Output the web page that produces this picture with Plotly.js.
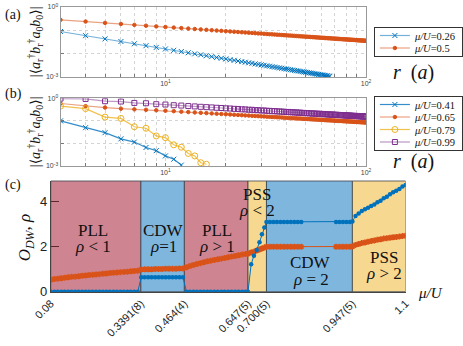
<!DOCTYPE html>
<html>
<head>
<meta charset="utf-8">
<script src="https://cdn.plot.ly/plotly-3.0.1.min.js"></script>
<style>
  body { margin: 0; background: #fff; }
  #chart { width: 463px; height: 346px; }
</style>
</head>
<body>
<div id="chart"></div>
<script>
// distances r (in units of a), shared by panels (a) and (b)
var rVals = [3,4,5,6,7,8,9,10,11,12,13,14,15,16,17,18,19,20,21,22,23,24,25,26,27,28,29,30,
  31,32,33,34,35,36,37,38,39,40,41,42,43,44,45,46,47,48,49,50,51,52,53,54,55,56,57,58,59,60,
  61,62,63,64,65,66,67,68,69,70,71,72,73,74,75,76,77,78,79,80,81,82,83,84,85,86,87,88,89,90,
  91,92,93,94,95,96,97,98,99,100];

// panel (a)
var corrA026 = [.0891,.059,.0429,.0331,.0265,.0219,.0185,.0159,
  .0139,.0123,.0109,.00984,.00892,.00813,.00746,.00687,.00636,.00591,
  .00551,.00516,.00484,.00455,.0043,.00406,.00385,.00365,.00347,.00331,
  .00316,.00302,.00289,.00277,.00265,.00255,.00245,.00236,.00227,.00219,
  .00212,.00205,.00198,.00191,.00185,.0018,.00174,.00169,.00164,.00159,
  .00155,.00151,.00147,.00143,.00139,.00136,.00132,.00129,.00126,.00123,
  .0012,.00117,.00115,.00112,.0011,.00107];
var corrA05 = [.2818,.2377,.2084,.1872,.1709,.158,.1474,.1385,
  .1309,.1244,.1186,.1136,.109,.105,.1013,.0979,.0948,.092,
  .0894,.087,.0847,.0826,.0807,.0788,.0771,.0754,.0739,.0724,
  .071,.0697,.0685,.0673,.0661,.0651,.064,.063,.0621,.0611,
  .0602,.0594,.0586,.0578,.057,.0563,.0556,.0549,.0542,.0536,
  .053,.0524,.0518,.0512,.0507,.0501,.0496,.0491,.0486,.0481,
  .0477,.0472,.0468,.0463,.0459,.0455,.0451,.0447,.0443,.0439,
  .0436,.0432,.0429,.0425,.0422,.0418,.0415,.0412,.0409,.0406,
  .0403,.04,.0397,.0395,.0392,.0389,.0387,.0384,.0381,.0379,
  .0376,.0374,.0372,.0369,.0367,.0365,.0362,.036,.0358,.0356];

// panel (b)
var corrB041 = [.1,.05,.03,.016,.0115,.0066,.0048,.0028,.002,.0011];
var corrB065 = [.589,.447,.389,.347,.324,.309,.295,.282,.269,
  .256,.246,.237,.228,.221,.214,.208,.202,.197,
  .192,.187,.183,.179,.175,.171,.168,.165,.162,.159,
  .157,.154,.151,.149,.147,.145,.143,.141,.139,.137,
  .135,.134,.132,.13,.129,.127,.126,.125,.123,.122,
  .121,.12,.118,.117,.116,.115,.114,.113,.112,.111,
  .11,.109,.108,.107,.106,.106,.105,.104,.103,.102,
  .102,.101,.1,.0995,.0989,.0982,.0975,.0968,.0962,.0956,
  .095,.0944,.0938,.0932,.0926,.0921,.0915,.091,.0904,.0899,
  .0894,.0889,.0884,.0879,.0874,.0869,.0865,.086,.0855,.0851];
var corrB079 = [.45,.35,.147,.128,.055,.047,.0215,.018,.0087,.0068,.0036,.0028,.0014,.0012];
var corrB099 = [.97,.937,.744,.719,.625,.603,.548,.529,
  .494,.477,.453,.437,.42,.405,.394,.38,.372,.359,
  .353,.341,.337,.325,.322,.311,.309,.299,.298,.288,
  .289,.279,.278,.268,.271,.261,.263,.254,.256,.247,
  .249,.24,.243,.235,.237,.229,.232,.224,.226,.219,
  .223,.215,.217,.21,.214,.206,.21,.203,.206,.199,
  .203,.196,.199,.192,.195,.188,.193,.187,.19,.183,
  .188,.181,.184,.178,.182,.176,.18,.173,.177,.171,
  .175,.169,.173,.167,.17,.165,.168,.163,.166,.161,
  .165,.159,.163,.157,.161,.155,.159,.154,.157,.152];

// panel (c): chemical potential, density-wave order and density
var muC = [.08,.09,.10,.11,.12,.13,.14,.15,.16,.17,.18,.19,.20,.21,.22,.23,.24,.25,.26,.27,.28,.29,.30,.31,.32,.33,
  .34,.35,.36,.37,.38,.39,.40,.41,.42,.43,.44,.45,.46,
  .47,.48,.49,.50,.51,.52,.53,.54,.55,.56,.57,.58,.59,.60,.61,.62,.63,.64,
  .647,.656,.664,.672,.680,.687,.694,.700,
  .71,.72,.73,.74,.75,.76,.77,.78,.79,.80,
  .90,.91,.92,.93,.94,.947,
  .956,.965,.974,.983,.992,1.001,1.010,1.019,1.028,1.037,1.046,1.055,1.064,1.073,1.082,1.091,1.100];
var odwC = [0,0,0,0,0,0,0,0,0,0,0,0,0,0,0,0,0,0,0,0,0,0,0,0,0,0,
  .64,.64,.64,.64,.64,.64,.64,.64,.64,.64,.64,.64,.64,
  0,0,0,0,0,0,0,0,0,0,0,0,0,0,0,0,0,0,
  0,1.22,1.6,1.85,2.2,2.55,2.85,3.1,
  3.1,3.1,3.1,3.1,3.1,3.1,3.1,3.1,3.1,3.1,
  3.1,3.1,3.1,3.1,3.1,3.12,
  3.36,3.48,3.59,3.66,3.73,3.81,3.88,3.97,4.04,4.15,4.22,4.33,4.42,4.49,4.56,4.67,4.74];
var rhoC = [.53,.56,.58,.60,.62,.64,.66,.67,.69,.71,.72,.74,.75,.77,.78,.80,.81,.83,.84,.85,.87,.88,.89,.91,.92,.93,
  .99,1.0,1.0,1.0,1.01,1.01,1.01,1.02,1.02,1.02,1.02,1.03,1.03,
  1.09,1.14,1.19,1.23,1.27,1.31,1.35,1.38,1.41,1.44,1.47,1.50,1.53,1.56,1.59,1.62,1.65,1.68,
  1.69,1.74,1.78,1.83,1.88,1.92,1.96,2.0,
  2.0,2.0,2.0,2.0,2.0,2.0,2.0,2.0,2.0,2.0,
  2.0,2.0,2.0,2.0,2.0,2.01,
  2.08,2.12,2.16,2.19,2.22,2.25,2.28,2.31,2.33,2.36,2.38,2.40,2.42,2.43,2.45,2.47,2.49];

// phase boundaries and their labels
var phaseEdges = [0.08, 0.3391, 0.464, 0.647, 0.700, 0.947, 1.1];
var phaseTickText = ['0.08', '0.3391(8)', '0.464(4)', '0.647(5)', '0.700(5)', '0.947(5)', '1.1'];
var phaseNames = ['PLL', 'CDW', 'PLL', 'PSS', 'CDW', 'PSS'];
var phaseRho = ['ρ < 1', 'ρ=1', 'ρ > 1', 'ρ < 2', 'ρ = 2', 'ρ > 2'];

var SERIF = 'Liberation Serif, DejaVu Serif, serif';
var SANS = 'Liberation Sans, Arial, sans-serif';
var BLUE = '#0072bd', ORANGE = '#d95319', YELLOW = '#edb120', PURPLE = '#7e2f8e';
var phaseColors = ['#cf8591', '#7eb6de', '#cf8591', '#f7d890', '#7eb6de', '#f7d890'];

function corrTrace(y, mu, color, lineColor, symbol, size, xa, ya, legend) {
  return {
    x: rVals.slice(0, y.length), y: y,
    name: '<i>μ/U</i>=' + mu,
    xaxis: xa, yaxis: ya, legend: legend,
    mode: 'lines+markers', type: 'scatter',
    line: {color: lineColor, width: 1.2},
    marker: {symbol: symbol, size: size, color: color, line: {color: color, width: 1}}
  };
}

var traces = [
  corrTrace(corrA026, '0.26', BLUE, 'rgba(0,114,189,0.55)', 'x-thin-open', 5, 'x', 'y', 'legend'),
  corrTrace(corrA05, '0.5', ORANGE, 'rgba(217,83,25,0.55)', 'circle', 3.5, 'x', 'y', 'legend'),
  corrTrace(corrB041, '0.41', BLUE, 'rgba(0,114,189,0.8)', 'x-thin-open', 5, 'x2', 'y2', 'legend2'),
  corrTrace(corrB065, '0.65', ORANGE, 'rgba(217,83,25,0.55)', 'circle', 3.5, 'x2', 'y2', 'legend2'),
  corrTrace(corrB079, '0.79', YELLOW, 'rgba(237,177,32,0.8)', 'circle-open', 6, 'x2', 'y2', 'legend2'),
  corrTrace(corrB099, '0.99', PURPLE, 'rgba(126,47,142,0.5)', 'square-open', 5, 'x2', 'y2', 'legend2'),
  {
    x: muC, y: rhoC, xaxis: 'x3', yaxis: 'y3', showlegend: false,
    mode: 'lines+markers', type: 'scatter',
    line: {color: ORANGE, width: 1},
    marker: {symbol: 'asterisk-open', size: 5, color: ORANGE, line: {color: ORANGE, width: 1.6}}
  },
  {
    x: muC, y: odwC, xaxis: 'x3', yaxis: 'y3', showlegend: false,
    mode: 'lines+markers', type: 'scatter',
    line: {color: BLUE, width: 1},
    marker: {symbol: 'circle', size: 4.5, color: BLUE}
  }
];

var logGridX = [3,4,5,6,7,8,9,10,20,30,40,50,60,70,80,90,100];
var logGridXText = logGridX.map(function(v) {
  return v === 10 ? '10<sup>1</sup>' : (v === 100 ? '10<sup>2</sup>' : ' ');
});

function logX(domain, anchor) {
  return {
    type: 'log', range: [Math.log10(3), 2], domain: domain, anchor: anchor,
    tickvals: logGridX, ticktext: logGridXText,
    ticks: 'inside', ticklen: 3, tickcolor: '#777',
    showgrid: true, gridcolor: '#d4d4d4', griddash: 'dot', gridwidth: 1,
    showline: true, mirror: true, linecolor: '#999', linewidth: 1,
    zeroline: false, tickfont: {family: SANS, size: 7, color: '#444'}
  };
}
function logY(domain, anchor) {
  return {
    type: 'log', range: [-3, 0], domain: domain, anchor: anchor,
    tickvals: [0.001, 0.01, 0.1, 1],
    ticktext: ['10<sup>-3</sup>', ' ', ' ', '10<sup>0</sup>'],
    ticks: 'inside', ticklen: 3, tickcolor: '#777',
    showgrid: true, gridcolor: '#d4d4d4', griddash: 'dot', gridwidth: 1,
    showline: true, mirror: true, linecolor: '#999', linewidth: 1,
    zeroline: false, tickfont: {family: SANS, size: 7, color: '#444'}
  };
}

var shapes = [];
var annotations = [];
for (var i = 0; i < phaseColors.length; i++) {
  shapes.push({
    type: 'rect', xref: 'x3', yref: 'y3 domain',
    x0: phaseEdges[i], x1: phaseEdges[i + 1], y0: 0, y1: 1,
    fillcolor: phaseColors[i], line: {color: 'rgba(50,60,70,0.75)', width: 1}, layer: 'below'
  });
}

// phase labels (two lines each)
var labelX = [0.201, 0.404, 0.559, 0.672, 0.827, 1.038];
var labelY = [2.72, 2.72, 2.72, 4.33, 1.28, 1.52];
var labelGap = 0.72;
for (var j = 0; j < phaseNames.length; j++) {
  annotations.push({xref: 'x3', yref: 'y3', x: labelX[j], y: labelY[j], text: phaseNames[j],
    xanchor: 'center', yanchor: 'middle',
    showarrow: false, font: {family: SERIF, size: 17, color: '#111'}});
  annotations.push({xref: 'x3', yref: 'y3', x: labelX[j], y: labelY[j] - labelGap, text: '<i>' + phaseRho[j].replace(/ρ/, 'ρ</i>'),
    xanchor: 'center', yanchor: 'middle',
    showarrow: false, font: {family: SERIF, size: 17, color: '#111'}});
}

function paperText(x, y, text, size, angle, xanchor) {
  return {xref: 'paper', yref: 'paper', x: x / 463, y: 1 - y / 346, text: text,
    xanchor: xanchor || 'center', yanchor: 'middle', textangle: angle || 0,
    showarrow: false, font: {family: SERIF, size: size, color: '#111'}};
}

var corrTitle = '|⟨<i>a</i><sub>r</sub><sup>†</sup><i>b</i><sub>r</sub><sup>†</sup><i>a</i><sub>0</sub><i>b</i><sub>0</sub>⟩|';
annotations = annotations.concat([
  paperText(3, 15, '(a)', 14, 0, 'left'),
  paperText(3, 94, '(b)', 14, 0, 'left'),
  paperText(3, 185, '(c)', 14, 0, 'left'),
  paperText(36, 42, corrTitle, 14, -90),
  paperText(36, 132, corrTitle, 14, -90),
  paperText(27, 238, '<i>O</i><sub><i>DW</i></sub>, <i>ρ</i>', 17, -90),
  paperText(424, 72, '<i>r</i>  (<i>a</i>)', 20),
  paperText(424, 161, '<i>r</i>  (<i>a</i>)', 20),
  paperText(441, 293, '<i>μ/U</i>', 15)
]);

var legendStyle = function(ytop) {
  return {
    x: 383 / 463, y: 1 - ytop / 346, xanchor: 'left', yanchor: 'top',
    bgcolor: '#fff', bordercolor: '#333', borderwidth: 1,
    font: {family: SERIF, size: 10.5, color: '#111'},
    itemwidth: 30, tracegroupgap: 0
  };
};

var layout = {
  width: 463, height: 346,
  margin: {l: 0, r: 0, t: 0, b: 0},
  paper_bgcolor: '#fff', plot_bgcolor: '#fff',
  showlegend: true,
  legend: legendStyle(27),
  legend2: legendStyle(96),
  xaxis: logX([0.1339, 0.8099], 'y'),
  yaxis: logY([0.7775, 0.9798], 'x'),
  xaxis2: logX([0.1339, 0.8099], 'y2'),
  yaxis2: logY([0.5202, 0.7159], 'x2'),
  xaxis3: {
    domain: [0.1123, 0.8974], anchor: 'y3', range: [0.08, 1.1],
    tickvals: phaseEdges, ticktext: phaseTickText, tickangle: -45,
    ticks: '', showgrid: false, zeroline: false,
    showline: true, linecolor: '#444', linewidth: 1,
    tickfont: {family: SANS, size: 11, color: '#222'}
  },
  yaxis3: {
    domain: [0.1569, 0.4769], anchor: 'x3', range: [0, 4.92],
    tickvals: [0, 2, 4], ticks: 'inside', ticklen: 8, tickcolor: '#5a2a30',
    showgrid: false, zeroline: false,
    showline: true, linecolor: '#444', linewidth: 1,
    tickfont: {family: SANS, size: 13, color: '#222'}
  },
  shapes: shapes,
  annotations: annotations
};

// Plotly keeps legend rows at least 19px apart; the figure packs them tighter
function compactLegend(gd, id, firstY, step, bottomPad) {
  var box = gd.querySelector('g.' + id);
  if (!box) return;
  var items = box.querySelectorAll('g.traces');
  if (!items.length) return;
  items.forEach(function(it, k) {
    var m = /translate\(\s*([-\d.e]+)[\s,]+([-\d.e]+)\s*\)/.exec(it.getAttribute('transform') || '');
    var x = m ? +m[1] : 0;
    it.setAttribute('transform', 'translate(' + x + ',' + (firstY + k * step) + ')');
  });
  var h = firstY + (items.length - 1) * step + bottomPad;
  box.querySelectorAll('rect.bg').forEach(function(bg) {
    bg.setAttribute('height', h);
  });
}

Plotly.newPlot('chart', traces, layout, {displayModeBar: false, staticPlot: true}).then(function(gd) {
  compactLegend(gd, 'legend', 8.5, 12.5, 7.5);
  compactLegend(gd, 'legend2', 8.5, 12.5, 7.5);
});
</script>
</body>
</html>
